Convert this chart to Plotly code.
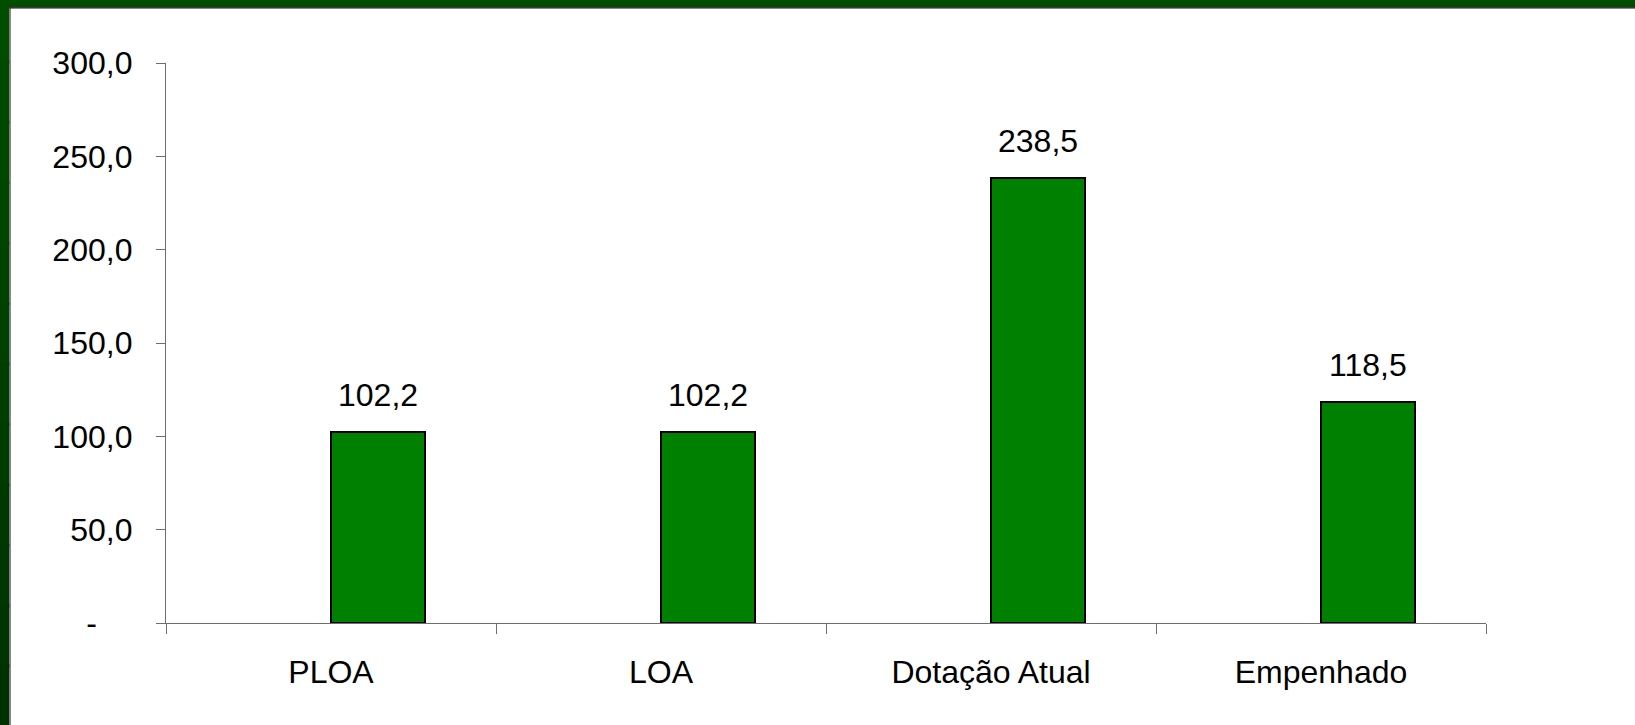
import plotly.graph_objects as go

categories = ["PLOA", "LOA", "Dotação Atual", "Empenhado"]
values = [102.2, 102.2, 238.5, 118.5]
value_labels = ["102,2", "102,2", "238,5", "118,5"]
y_tickvals = [0, 50, 100, 150, 200, 250, 300]
y_ticktext = ["-\u00a0\u00a0\u00a0\u00a0", "50,0", "100,0", "150,0", "200,0", "250,0", "300,0"]

W, H = 1635, 725
ML, MR, MT, MB = 166, 149, 63, 102
PW, PH = W - ML - MR, H - MT - MB

def px_x(px):
    return (px - ML) / PW

def px_y(py):
    return (H - MB - py) / PH

FONT = "Liberation Sans, Arial, sans-serif"

fig = go.Figure()
fig.add_trace(go.Bar(
    x=categories, y=values,
    offset=0, width=0.285,
    marker=dict(color="#008000", line=dict(color="#000000", width=2)),
    hoverinfo="skip",
))

annotations = []
for c, v, t in zip(categories, values, value_labels):
    annotations.append(dict(
        x=c, y=v, xref="x", yref="y", text=t, showarrow=False,
        xshift=47, yshift=17, yanchor="bottom",
        font=dict(size=32, color="#000000", family=FONT),
    ))

shapes = []
# left frame band, shading from lighter (top) to darker (bottom)
n = 12
c_top = (0x00, 0x4d, 0x00)
c_bot = (0x00, 0x30, 0x00)
for i in range(n):
    top = H * i / n
    bot = min(H, H * (i + 1) / n + 3)
    f = (i + 0.5) / n
    col = tuple(int(round(a + (b - a) * f)) for a, b in zip(c_top, c_bot))
    shapes.append(dict(type="rect", xref="paper", yref="paper",
                       x0=px_x(0), x1=px_x(9.5), y0=px_y(bot), y1=px_y(top),
                       fillcolor="rgb(%d,%d,%d)" % col, line=dict(width=0), layer="above"))
shapes.append(dict(type="rect", xref="paper", yref="paper",
                   x0=px_x(9.5), x1=px_x(10.8), y0=px_y(H), y1=px_y(0),
                   fillcolor="#6a6a6a", line=dict(width=0), layer="above"))
# top frame band
shapes.append(dict(type="rect", xref="paper", yref="paper",
                   x0=px_x(0), x1=px_x(W), y0=px_y(7.3), y1=px_y(0),
                   fillcolor="#004d00", line=dict(width=0), layer="above"))
shapes.append(dict(type="rect", xref="paper", yref="paper",
                   x0=px_x(9.5), x1=px_x(W), y0=px_y(8.6), y1=px_y(7.3),
                   fillcolor="#0a0a0a", line=dict(width=0), layer="above"))

fig.update_layout(
    width=W, height=H,
    margin=dict(l=ML, r=MR, t=MT, b=MB, pad=0),
    paper_bgcolor="#ffffff", plot_bgcolor="#ffffff",
    showlegend=False,
    font=dict(family=FONT, size=32, color="#000000"),
    annotations=annotations,
    shapes=shapes,
    bargap=0,
)
fig.update_xaxes(
    type="category", range=[-0.5, 3.5],
    showline=True, linecolor="#6e6e6e", linewidth=1.3,
    ticks="outside", tickson="boundaries", ticklen=10, tickwidth=1.3, tickcolor="#6e6e6e",
    showgrid=False, zeroline=False,
    tickfont=dict(size=32, family=FONT, color="#000000"),
    ticklabelstandoff=20,
    fixedrange=True,
)
fig.update_yaxes(
    range=[0, 300], tickvals=y_tickvals, ticktext=y_ticktext,
    showline=True, linecolor="#6e6e6e", linewidth=1.3,
    ticks="outside", ticklen=9, tickwidth=1.3, tickcolor="#6e6e6e",
    showgrid=False, zeroline=False,
    tickfont=dict(size=32, family=FONT, color="#000000"),
    ticklabelstandoff=17,
    fixedrange=True,
)

fig.write_html(
    "out.html",
    config=dict(displayModeBar=False),
    post_script="document.body.style.margin='0';document.body.style.overflow='hidden';",
)
